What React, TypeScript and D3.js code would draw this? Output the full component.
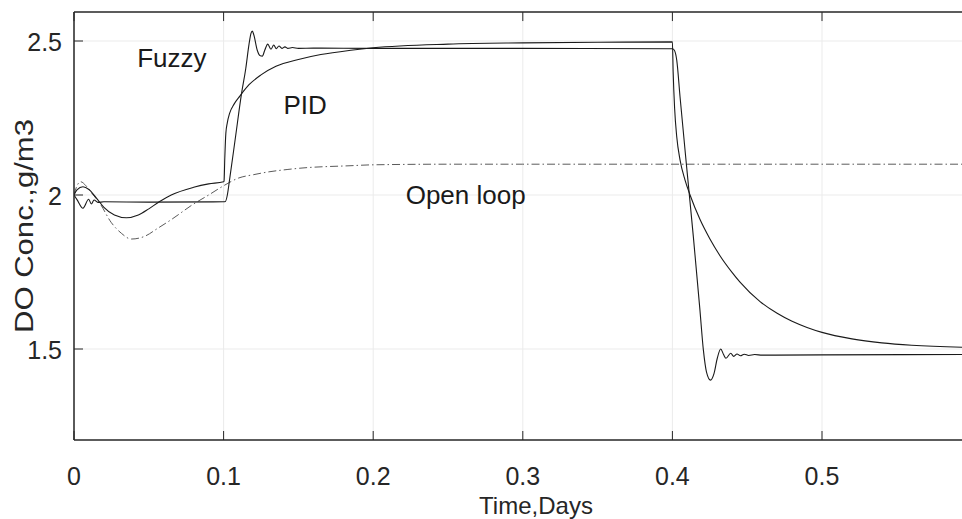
import React from "react";
import * as d3 from "d3";

// ---- data ----
const xTicks = [0, 0.1, 0.2, 0.3, 0.4, 0.5];
const yTicks = [1.5, 2, 2.5];
const xLimits = [0, 0.6];
const yLimits = [1.2045, 2.594];

const fuzzyT = [0, 0.002, 0.006, 0.0098, 0.0116, 0.0134, 0.016, 0.02, 0.05, 0.1, 0.1012, 0.1025, 0.104, 0.108, 0.112, 0.1148, 0.117, 0.1183, 0.1192, 0.1202, 0.1225, 0.1245, 0.1259, 0.1275, 0.1295, 0.1317, 0.1335, 0.1352, 0.137, 0.139, 0.141, 0.143, 0.146, 0.15, 0.16, 0.2, 0.3, 0.4, 0.4013, 0.4029, 0.4051, 0.4095, 0.414, 0.4184, 0.4207, 0.4228, 0.4255, 0.4278, 0.43, 0.4323, 0.4342, 0.4358, 0.439, 0.441, 0.4432, 0.4455, 0.448, 0.451, 0.455, 0.46, 0.5, 0.6];
const fuzzyV = [2.0, 1.985, 1.957, 1.986, 1.971, 1.984, 1.976, 1.978, 1.977, 1.978, 1.979, 2.0, 2.05, 2.19, 2.33, 2.41, 2.49, 2.525, 2.532, 2.52, 2.47, 2.452, 2.451, 2.47, 2.49, 2.473, 2.487, 2.475, 2.484, 2.476, 2.481, 2.476, 2.479, 2.476, 2.477, 2.476, 2.476, 2.475, 2.47, 2.438, 2.319, 2.092, 1.865, 1.627, 1.497, 1.425, 1.399, 1.42, 1.47, 1.5, 1.482, 1.47, 1.486, 1.476, 1.484, 1.478, 1.483, 1.479, 1.482, 1.48, 1.481, 1.482];

const pidT = [0, 0.002, 0.006, 0.01, 0.015, 0.02, 0.027, 0.035, 0.043, 0.05, 0.057, 0.065, 0.08, 0.09, 0.1, 0.1003, 0.1008, 0.1015, 0.1025, 0.104, 0.107, 0.111, 0.117, 0.125, 0.135, 0.15, 0.165, 0.185, 0.2, 0.25, 0.3, 0.35, 0.4, 0.4005, 0.4015, 0.4029, 0.4051, 0.4084, 0.4118, 0.4184, 0.425, 0.4318, 0.44, 0.4452, 0.4586, 0.47, 0.48, 0.49, 0.5, 0.52, 0.54, 0.56, 0.6];
const pidV = [2.0, 2.017, 2.027, 2.018, 1.99, 1.96, 1.935, 1.926, 1.935, 1.955, 1.978, 2.0, 2.025, 2.036, 2.043, 2.045, 2.12, 2.2, 2.235, 2.265, 2.295, 2.322, 2.358, 2.39, 2.418, 2.44, 2.456, 2.47, 2.478, 2.49, 2.494, 2.496, 2.497, 2.4, 2.28, 2.189, 2.114, 2.049, 2.0, 1.921, 1.858, 1.803, 1.748, 1.717, 1.654, 1.616, 1.59, 1.57, 1.554, 1.533, 1.52, 1.512, 1.505];

const openT = [0, 0.002, 0.0045, 0.008, 0.012, 0.017, 0.025, 0.0316, 0.0383, 0.0473, 0.056, 0.065, 0.0797, 0.09, 0.1, 0.11, 0.12, 0.13, 0.143, 0.151, 0.1845, 0.2, 0.25, 0.3, 0.6];
const openV = [2.0, 2.03, 2.043, 2.03, 2.005, 1.975, 1.91, 1.876, 1.857, 1.866, 1.892, 1.92, 1.97, 2.0, 2.03, 2.055, 2.066, 2.075, 2.083, 2.087, 2.095, 2.098, 2.1, 2.1, 2.1];

const labels = [
  { text: "Fuzzy", t: 0.0422, v: 2.4155 },
  { text: "PID", t: 0.14, v: 2.263 },
  { text: "Open loop", t: 0.2217, v: 1.9712 },
];

const W = 962;
const H = 519;

export default function App() {
  const x = d3.scaleLinear().domain([0, 0.5]).range([74, 822]);
  const y = d3.scaleLinear().domain([1.5, 2.5]).range([349, 41]);
  const left = x(xLimits[0]);
  const right = Math.min(W, x(xLimits[1]));
  const top = y(yLimits[1]);
  const bottom = y(yLimits[0]);

  const line = d3
    .line<[number, number]>()
    .x((d) => x(d[0]))
    .y((d) => y(d[1]))
    .curve(d3.curveMonotoneX);

  const zip = (t: number[], v: number[]) => t.map((tt, i) => [tt, v[i]] as [number, number]);

  const axisColor = "#262626";
  const gridColor = "#ebebeb";
  const font = "'Liberation Sans', Arial, Helvetica, sans-serif";
  const tickLen = 9;

  return (
    <svg width={W} height={H} style={{ position: "absolute", left: 0, top: 0, background: "#fff" }}>
      <defs>
        <clipPath id="plotClip">
          <rect x={left} y={top} width={right - left} height={bottom - top} />
        </clipPath>
      </defs>
      <rect x={0} y={0} width={W} height={H} fill="#fff" />
      {/* grid */}
      {xTicks.map((t) => (
        <line key={"gx" + t} x1={x(t)} x2={x(t)} y1={top} y2={bottom} stroke={gridColor} strokeWidth={1} />
      ))}
      {yTicks.map((v) => (
        <line key={"gy" + v} x1={left} x2={right} y1={y(v)} y2={y(v)} stroke={gridColor} strokeWidth={1} />
      ))}
      {/* series */}
      <g clipPath="url(#plotClip)" fill="none">
        <path d={line(zip(openT, openV)) || ""} stroke="#5a5a5a" strokeWidth={1} strokeDasharray="8,3,1.5,3" />
        <path d={line(zip(pidT, pidV)) || ""} stroke="#1a1a1a" strokeWidth={1.1} />
        <path d={line(zip(fuzzyT, fuzzyV)) || ""} stroke="#1a1a1a" strokeWidth={1.1} />
      </g>
      {/* axes box */}
      <line x1={left} x2={right} y1={top} y2={top} stroke={axisColor} strokeWidth={1.5} />
      <line x1={left} x2={right} y1={bottom} y2={bottom} stroke={axisColor} strokeWidth={1.5} />
      <line x1={left} x2={left} y1={top} y2={bottom} stroke={axisColor} strokeWidth={1.5} />
      {xTicks.map((t) => (
        <g key={"tx" + t}>
          <line x1={x(t)} x2={x(t)} y1={bottom} y2={bottom - tickLen} stroke={axisColor} strokeWidth={1} />
          <line x1={x(t)} x2={x(t)} y1={top} y2={top + tickLen} stroke={axisColor} strokeWidth={1} />
          <text x={x(t)} y={bottom + 45} textAnchor="middle" fontFamily={font} fontSize={25} fill={axisColor}>
            {String(t)}
          </text>
        </g>
      ))}
      {yTicks.map((v) => (
        <g key={"ty" + v}>
          <line x1={left} x2={left + tickLen} y1={y(v)} y2={y(v)} stroke={axisColor} strokeWidth={1} />
          <text x={62} y={y(v) + 9.5} textAnchor="end" fontFamily={font} fontSize={25} fill={axisColor}>
            {String(v)}
          </text>
        </g>
      ))}
      <text x={536} y={514} textAnchor="middle" fontFamily={font} fontSize={24} fill={axisColor}>
        Time,Days
      </text>
      <text
        transform={`translate(33, ${(top + bottom) / 2}) rotate(-90)`}
        textAnchor="middle"
        fontFamily={font}
        fontSize={26}
        textLength={214}
        lengthAdjust="spacingAndGlyphs"
        fill={axisColor}
      >
        DO Conc.,g/m3
      </text>
      {labels.map((l) => (
        <text key={l.text} x={x(l.t)} y={y(l.v)} fontFamily={font} fontSize={26} fill="#1a1a1a">
          {l.text}
        </text>
      ))}
    </svg>
  );
}
